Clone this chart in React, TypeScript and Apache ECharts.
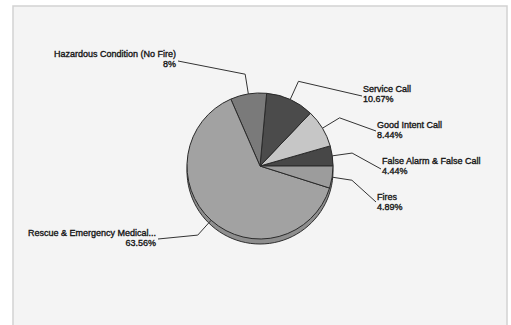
import React, { useEffect, useRef } from "react";
import * as echarts from "echarts";

const categories = [
  "False Alarm & False Call",
  "Good Intent Call",
  "Service Call",
  "Hazardous Condition (No Fire)",
  "Rescue & Emergency Medical...",
  "Fires",
];
const percentValues = [4.44, 8.44, 10.67, 8, 63.56, 4.89];
const sliceColors = ["#474747", "#c6c6c6", "#4b4b4b", "#7a7a7a", "#a2a2a2", "#9c9c9c"];

// label placement (layout, not data)
const labelPlacement: { x: number; y: number; align: "left" | "right"; ex: number; ey: number }[] = [
  { x: 382, y: 166, align: "left", ex: 381, ey: 169 },
  { x: 377, y: 130, align: "left", ex: 376, ey: 131 },
  { x: 363, y: 94, align: "left", ex: 362, ey: 96 },
  { x: 176, y: 59, align: "right", ex: 178, ey: 61 },
  { x: 156, y: 238, align: "right", ex: 158, ey: 239 },
  { x: 377, y: 202, align: "left", ex: 376, ey: 202 },
];

const CX = 260;
const CY = 166;
const R = 73;

export default function App() {
  const ref = useRef<HTMLDivElement>(null);
  useEffect(() => {
    if (!ref.current) return;
    const chart = echarts.init(ref.current, undefined, { renderer: "svg" });
    const total = percentValues.reduce((a, b) => a + b, 0);
    const mids: number[] = [];
    let acc = 0;
    percentValues.forEach((v) => {
      const a0 = (acc / total) * 360;
      acc += v;
      const a1 = (acc / total) * 360;
      mids.push(((a0 + a1) / 2) * (Math.PI / 180));
    });
    chart.setOption({
      animation: false,
      backgroundColor: "#ffffff",
      graphic: [
        {
          type: "rect",
          z: -10,
          shape: { x: 13, y: 6, width: 494, height: 330 },
          style: { fill: "#f4f4f4", stroke: "#d2d2d2", lineWidth: 1.5 },
          silent: true,
        },
      ],
      series: [
        {
          type: "pie",
          z: 1,
          silent: true,
          center: [CX, CY + 5],
          radius: R,
          startAngle: 0,
          clockwise: false,
          label: { show: false },
          labelLine: { show: false },
          itemStyle: { color: "#8e8e8e", borderColor: "#2e2e2e", borderWidth: 1 },
          data: [{ value: total, name: "shadow" }],
        },
        {
          type: "pie",
          z: 2,
          center: [CX, CY],
          radius: R,
          startAngle: 0,
          clockwise: false,
          avoidLabelOverlap: false,
          itemStyle: { borderColor: "#2a2a2a", borderWidth: 1 },
          label: {
            show: true,
            formatter: (p: any) => `${p.name}\n${p.value}%`,
            fontFamily: "'Liberation Sans', Arial, sans-serif",
            fontSize: 9,
            lineHeight: 10.5,
            color: "#151515",
            textBorderColor: "#151515",
            textBorderWidth: 0.35,
          },
          labelLine: {
            show: true,
            length: 20,
            length2: 10,
            smooth: false,
            lineStyle: { color: "#333333", width: 1 },
          },
          labelLayout: (params: any) => {
            const i = params.dataIndex;
            const pl = labelPlacement[i];
            const a = mids[i];
            const p0 = [CX + R * Math.cos(a), CY - R * Math.sin(a)];
            const p1 = [CX + (R + 20) * Math.cos(a), CY - (R + 20) * Math.sin(a)];
            return {
              x: pl.x,
              y: pl.y,
              align: pl.align,
              verticalAlign: "middle",
              labelLinePoints: [p0, p1, [pl.ex, pl.ey]],
            };
          },
          data: categories.map((c, i) => ({
            name: c,
            value: percentValues[i],
            itemStyle: { color: sliceColors[i] },
          })),
        },
      ],
    });
    return () => chart.dispose();
  }, []);
  return (
    <div
      ref={ref}
      style={{ position: "fixed", left: 0, top: 0, width: 511, height: 325 }}
    />
  );
}
